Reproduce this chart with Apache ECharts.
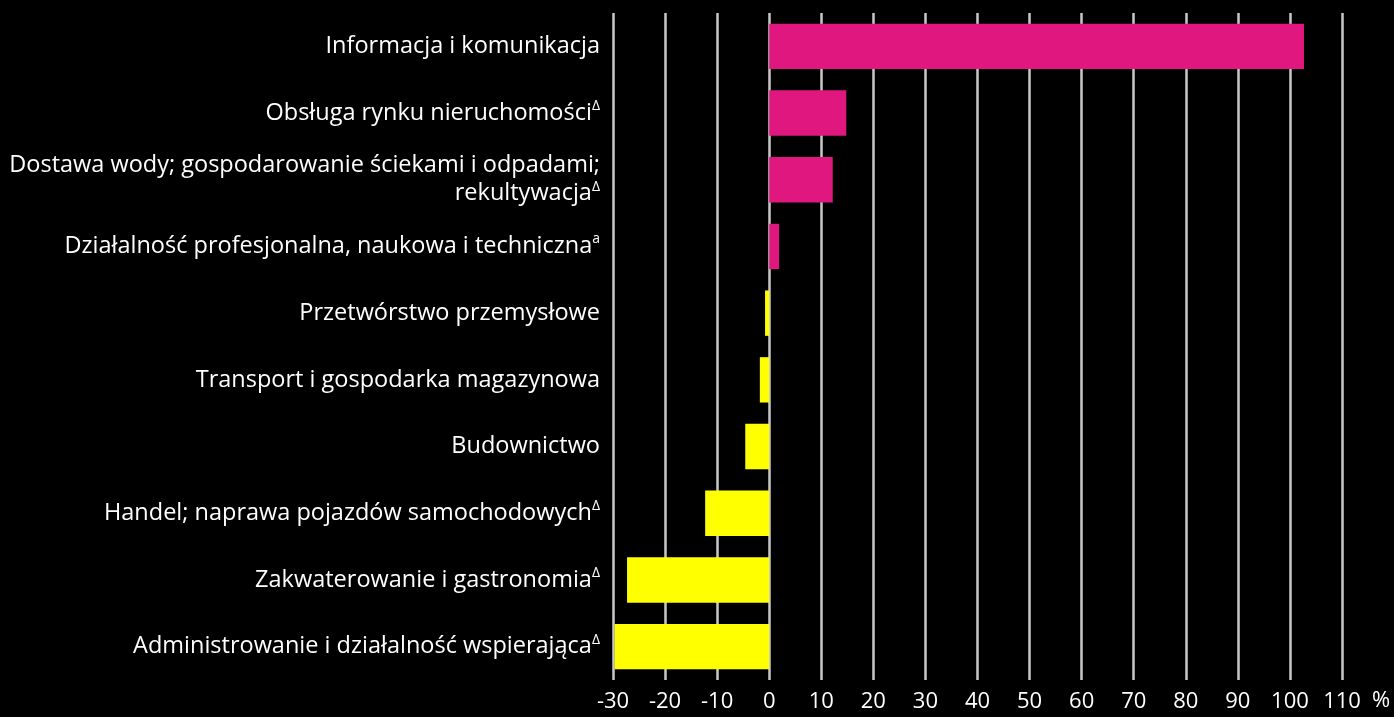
<!DOCTYPE html>
<html>
<head>
<meta charset="utf-8">
<script src="https://cdn.jsdelivr.net/npm/echarts@6/dist/echarts.min.js"></script>
<style>
  html, body { margin: 0; padding: 0; background: #000; }
  #main { width: 1394px; height: 717px; }
</style>
</head>
<body>
<div id="main"></div>
<script>
// dane
var categories = [
  'Informacja i komunikacja',
  'Obsługa rynku nieruchomości',
  'Dostawa wody; gospodarowanie ściekami i odpadami;\nrekultywacja',
  'Działalność profesjonalna, naukowa i techniczna',
  'Przetwórstwo przemysłowe',
  'Transport i gospodarka magazynowa',
  'Budownictwo',
  'Handel; naprawa pojazdów samochodowych',
  'Zakwaterowanie i gastronomia',
  'Administrowanie i działalność wspierająca'
];
var notes = ['', 'Δ', 'Δ', 'a', '', '', '', 'Δ', 'Δ', 'Δ'];
var values = [102.7, 14.8, 12.2, 1.9, -0.8, -1.8, -4.6, -12.3, -27.3, -29.7];
var xTicks = { min: -30, max: 110, interval: 10 };

var FONT = 'Open Sans';

window.onload = function() {
  var myChart = echarts.init(document.getElementById('main'));

  var option = {
    backgroundColor: '#000',
    animation: false,
    grid: { left: 613, right: 52, top: 13, bottom: 37 },
    xAxis: {
      type: 'value',
      min: xTicks.min,
      max: xTicks.max,
      interval: xTicks.interval,
      name: '%',
      nameLocation: 'end',
      nameGap: 30,
      nameTextStyle: {
        color: '#fff', fontSize: 22, fontFamily: FONT,
        verticalAlign: 'top', padding: [10, 0, 0, 0]
      },
      axisLine: { show: false },
      axisTick: { show: false },
      axisLabel: { color: '#fff', fontSize: 22, fontFamily: FONT, margin: 11 },
      splitLine: { lineStyle: { color: '#c8c8c8', width: 2.5 } }
    },
    yAxis: {
      type: 'category',
      inverse: true,
      data: categories,
      axisLine: { show: false },
      axisTick: { show: false },
      splitLine: { show: false },
      axisLabel: {
        margin: 13,
        align: 'right',
        color: '#fff',
        fontSize: 23.5,
        fontFamily: FONT,
        lineHeight: 28,
        formatter: function(v, i) {
          return notes[i] ? v + '{sup|' + notes[i] + '}' : v;
        },
        rich: {
          sup: { fontSize: 14, color: '#fff', fontFamily: FONT, verticalAlign: 'top', lineHeight: 28, padding: [0, 0, 10, 0] }
        }
      }
    },
    series: [{
      type: 'bar',
      barWidth: '68%',
      data: values.map(function(v) {
        return { value: v, itemStyle: { color: v >= 0 ? '#e0177f' : '#ffff00' } };
      })
    }]
  };

  myChart.setOption(option);
};
</script>
</body>
</html>
